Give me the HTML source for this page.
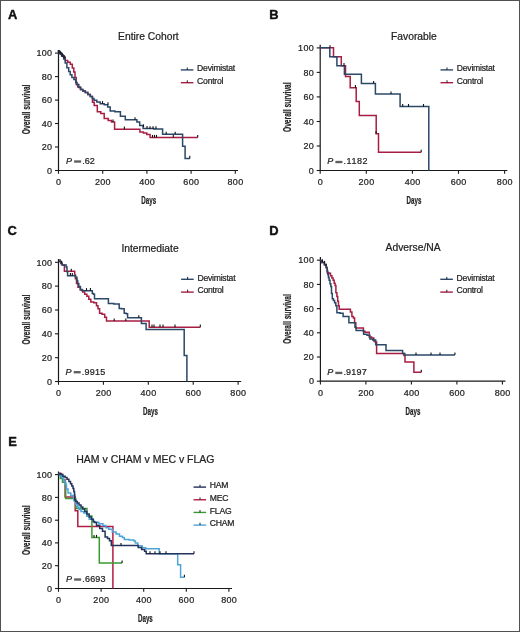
<!DOCTYPE html>
<html><head><meta charset="utf-8"><style>
html,body{margin:0;padding:0;background:#fff;}
body{width:520px;height:632px;overflow:hidden;position:relative;font-family:"Liberation Sans", sans-serif;}
.frame{position:absolute;left:0;top:0;width:518px;height:630px;border:1px solid #505050;}
svg{position:absolute;left:0;top:0;display:block;will-change:transform;}
text{stroke:#222;stroke-width:0.22px;}
</style></head><body>
<svg width="520" height="632" viewBox="0 0 520 632" font-family="Liberation Sans, sans-serif">
<rect x="0" y="0" width="520" height="632" fill="#fff"/>
<text x="7.9" y="18.6" font-size="12.9" text-anchor="start" font-weight="bold" font-style="normal" fill="#111" style="stroke:#111;stroke-width:0.4px">A</text>
<text x="148.4" y="40" font-size="10.3" text-anchor="middle" font-weight="normal" font-style="normal" fill="#222" >Entire Cohort</text>
<path d="M58.5,49.9V170.5H238" fill="none" stroke="#1a1a1a" stroke-width="1.2"/>
<line x1="55.0" y1="170.5" x2="58.5" y2="170.5" stroke="#1a1a1a" stroke-width="1.1"/>
<text x="52.3" y="173.7" font-size="9" text-anchor="end" font-weight="normal" font-style="normal" fill="#222" letter-spacing="0.3">0</text>
<line x1="55.0" y1="147.0" x2="58.5" y2="147.0" stroke="#1a1a1a" stroke-width="1.1"/>
<text x="52.3" y="150.22" font-size="9" text-anchor="end" font-weight="normal" font-style="normal" fill="#222" letter-spacing="0.3">20</text>
<line x1="55.0" y1="123.5" x2="58.5" y2="123.5" stroke="#1a1a1a" stroke-width="1.1"/>
<text x="52.3" y="126.74" font-size="9" text-anchor="end" font-weight="normal" font-style="normal" fill="#222" letter-spacing="0.3">40</text>
<line x1="55.0" y1="100.1" x2="58.5" y2="100.1" stroke="#1a1a1a" stroke-width="1.1"/>
<text x="52.3" y="103.26" font-size="9" text-anchor="end" font-weight="normal" font-style="normal" fill="#222" letter-spacing="0.3">60</text>
<line x1="55.0" y1="76.6" x2="58.5" y2="76.6" stroke="#1a1a1a" stroke-width="1.1"/>
<text x="52.3" y="79.78" font-size="9" text-anchor="end" font-weight="normal" font-style="normal" fill="#222" letter-spacing="0.3">80</text>
<line x1="55.0" y1="53.1" x2="58.5" y2="53.1" stroke="#1a1a1a" stroke-width="1.1"/>
<text x="52.3" y="56.3" font-size="9" text-anchor="end" font-weight="normal" font-style="normal" fill="#222" letter-spacing="0.3">100</text>
<line x1="58.5" y1="170.5" x2="58.5" y2="173.8" stroke="#1a1a1a" stroke-width="1.1"/>
<text x="58.7" y="185.3" font-size="9" text-anchor="middle" font-weight="normal" font-style="normal" fill="#222" letter-spacing="0.3">0</text>
<line x1="102.7" y1="170.5" x2="102.7" y2="173.8" stroke="#1a1a1a" stroke-width="1.1"/>
<text x="102.9" y="185.3" font-size="9" text-anchor="middle" font-weight="normal" font-style="normal" fill="#222" letter-spacing="0.3">200</text>
<line x1="146.9" y1="170.5" x2="146.9" y2="173.8" stroke="#1a1a1a" stroke-width="1.1"/>
<text x="147.1" y="185.3" font-size="9" text-anchor="middle" font-weight="normal" font-style="normal" fill="#222" letter-spacing="0.3">400</text>
<line x1="191.1" y1="170.5" x2="191.1" y2="173.8" stroke="#1a1a1a" stroke-width="1.1"/>
<text x="191.3" y="185.3" font-size="9" text-anchor="middle" font-weight="normal" font-style="normal" fill="#222" letter-spacing="0.3">600</text>
<line x1="235.3" y1="170.5" x2="235.3" y2="173.8" stroke="#1a1a1a" stroke-width="1.1"/>
<text x="235.5" y="185.3" font-size="9" text-anchor="middle" font-weight="normal" font-style="normal" fill="#222" letter-spacing="0.3">800</text>
<text x="0" y="0" font-size="10" font-weight="bold" fill="#222" text-anchor="middle" transform="translate(148.7,204.1) scale(0.62,1)">Days</text>
<text x="0" y="0" font-size="10.2" font-weight="bold" fill="#222" text-anchor="middle" style="stroke-width:0.2px" transform="translate(30.3,109.4) rotate(-90) scale(0.655,1)">Overall survival</text>
<text x="269.2" y="18.5" font-size="12.9" text-anchor="start" font-weight="bold" font-style="normal" fill="#111" style="stroke:#111;stroke-width:0.4px">B</text>
<text x="413.9" y="39.8" font-size="10.3" text-anchor="middle" font-weight="normal" font-style="normal" fill="#222" >Favorable</text>
<path d="M320.2,44.699999999999996V170.5H507.4" fill="none" stroke="#1a1a1a" stroke-width="1.2"/>
<line x1="316.7" y1="170.5" x2="320.2" y2="170.5" stroke="#1a1a1a" stroke-width="1.1"/>
<text x="314.0" y="173.7" font-size="9" text-anchor="end" font-weight="normal" font-style="normal" fill="#222" letter-spacing="0.3">0</text>
<line x1="316.7" y1="146.0" x2="320.2" y2="146.0" stroke="#1a1a1a" stroke-width="1.1"/>
<text x="314.0" y="149.17999999999998" font-size="9" text-anchor="end" font-weight="normal" font-style="normal" fill="#222" letter-spacing="0.3">20</text>
<line x1="316.7" y1="121.5" x2="320.2" y2="121.5" stroke="#1a1a1a" stroke-width="1.1"/>
<text x="314.0" y="124.66000000000001" font-size="9" text-anchor="end" font-weight="normal" font-style="normal" fill="#222" letter-spacing="0.3">40</text>
<line x1="316.7" y1="96.9" x2="320.2" y2="96.9" stroke="#1a1a1a" stroke-width="1.1"/>
<text x="314.0" y="100.14" font-size="9" text-anchor="end" font-weight="normal" font-style="normal" fill="#222" letter-spacing="0.3">60</text>
<line x1="316.7" y1="72.4" x2="320.2" y2="72.4" stroke="#1a1a1a" stroke-width="1.1"/>
<text x="314.0" y="75.62" font-size="9" text-anchor="end" font-weight="normal" font-style="normal" fill="#222" letter-spacing="0.3">80</text>
<line x1="316.7" y1="47.9" x2="320.2" y2="47.9" stroke="#1a1a1a" stroke-width="1.1"/>
<text x="314.0" y="51.10000000000001" font-size="9" text-anchor="end" font-weight="normal" font-style="normal" fill="#222" letter-spacing="0.3">100</text>
<line x1="320.2" y1="170.5" x2="320.2" y2="173.8" stroke="#1a1a1a" stroke-width="1.1"/>
<text x="320.4" y="185.3" font-size="9" text-anchor="middle" font-weight="normal" font-style="normal" fill="#222" letter-spacing="0.3">0</text>
<line x1="366.3" y1="170.5" x2="366.3" y2="173.8" stroke="#1a1a1a" stroke-width="1.1"/>
<text x="366.5" y="185.3" font-size="9" text-anchor="middle" font-weight="normal" font-style="normal" fill="#222" letter-spacing="0.3">200</text>
<line x1="412.4" y1="170.5" x2="412.4" y2="173.8" stroke="#1a1a1a" stroke-width="1.1"/>
<text x="412.6" y="185.3" font-size="9" text-anchor="middle" font-weight="normal" font-style="normal" fill="#222" letter-spacing="0.3">400</text>
<line x1="458.5" y1="170.5" x2="458.5" y2="173.8" stroke="#1a1a1a" stroke-width="1.1"/>
<text x="458.7" y="185.3" font-size="9" text-anchor="middle" font-weight="normal" font-style="normal" fill="#222" letter-spacing="0.3">600</text>
<line x1="504.6" y1="170.5" x2="504.6" y2="173.8" stroke="#1a1a1a" stroke-width="1.1"/>
<text x="504.8" y="185.3" font-size="9" text-anchor="middle" font-weight="normal" font-style="normal" fill="#222" letter-spacing="0.3">800</text>
<text x="0" y="0" font-size="10" font-weight="bold" fill="#222" text-anchor="middle" transform="translate(414,204.1) scale(0.62,1)">Days</text>
<text x="0" y="0" font-size="10.2" font-weight="bold" fill="#222" text-anchor="middle" style="stroke-width:0.2px" transform="translate(290.9,107.2) rotate(-90) scale(0.655,1)">Overall survival</text>
<text x="7.6" y="234.5" font-size="12.9" text-anchor="start" font-weight="bold" font-style="normal" fill="#111" style="stroke:#111;stroke-width:0.4px">C</text>
<text x="150" y="251.6" font-size="10.3" text-anchor="middle" font-weight="normal" font-style="normal" fill="#222" >Intermediate</text>
<path d="M58.5,259.1V381.5H241.2" fill="none" stroke="#1a1a1a" stroke-width="1.2"/>
<line x1="55.0" y1="381.5" x2="58.5" y2="381.5" stroke="#1a1a1a" stroke-width="1.1"/>
<text x="52.3" y="384.7" font-size="9" text-anchor="end" font-weight="normal" font-style="normal" fill="#222" letter-spacing="0.3">0</text>
<line x1="55.0" y1="357.7" x2="58.5" y2="357.7" stroke="#1a1a1a" stroke-width="1.1"/>
<text x="52.3" y="360.86" font-size="9" text-anchor="end" font-weight="normal" font-style="normal" fill="#222" letter-spacing="0.3">20</text>
<line x1="55.0" y1="333.8" x2="58.5" y2="333.8" stroke="#1a1a1a" stroke-width="1.1"/>
<text x="52.3" y="337.02" font-size="9" text-anchor="end" font-weight="normal" font-style="normal" fill="#222" letter-spacing="0.3">40</text>
<line x1="55.0" y1="310.0" x2="58.5" y2="310.0" stroke="#1a1a1a" stroke-width="1.1"/>
<text x="52.3" y="313.18" font-size="9" text-anchor="end" font-weight="normal" font-style="normal" fill="#222" letter-spacing="0.3">60</text>
<line x1="55.0" y1="286.1" x2="58.5" y2="286.1" stroke="#1a1a1a" stroke-width="1.1"/>
<text x="52.3" y="289.34" font-size="9" text-anchor="end" font-weight="normal" font-style="normal" fill="#222" letter-spacing="0.3">80</text>
<line x1="55.0" y1="262.3" x2="58.5" y2="262.3" stroke="#1a1a1a" stroke-width="1.1"/>
<text x="52.3" y="265.5" font-size="9" text-anchor="end" font-weight="normal" font-style="normal" fill="#222" letter-spacing="0.3">100</text>
<line x1="58.5" y1="381.5" x2="58.5" y2="384.8" stroke="#1a1a1a" stroke-width="1.1"/>
<text x="58.7" y="396.4" font-size="9" text-anchor="middle" font-weight="normal" font-style="normal" fill="#222" letter-spacing="0.3">0</text>
<line x1="103.4" y1="381.5" x2="103.4" y2="384.8" stroke="#1a1a1a" stroke-width="1.1"/>
<text x="103.6" y="396.4" font-size="9" text-anchor="middle" font-weight="normal" font-style="normal" fill="#222" letter-spacing="0.3">200</text>
<line x1="148.3" y1="381.5" x2="148.3" y2="384.8" stroke="#1a1a1a" stroke-width="1.1"/>
<text x="148.5" y="396.4" font-size="9" text-anchor="middle" font-weight="normal" font-style="normal" fill="#222" letter-spacing="0.3">400</text>
<line x1="193.2" y1="381.5" x2="193.2" y2="384.8" stroke="#1a1a1a" stroke-width="1.1"/>
<text x="193.4" y="396.4" font-size="9" text-anchor="middle" font-weight="normal" font-style="normal" fill="#222" letter-spacing="0.3">600</text>
<line x1="238.1" y1="381.5" x2="238.1" y2="384.8" stroke="#1a1a1a" stroke-width="1.1"/>
<text x="238.3" y="396.4" font-size="9" text-anchor="middle" font-weight="normal" font-style="normal" fill="#222" letter-spacing="0.3">800</text>
<text x="0" y="0" font-size="10" font-weight="bold" fill="#222" text-anchor="middle" transform="translate(150.5,415.3) scale(0.62,1)">Days</text>
<text x="0" y="0" font-size="10.2" font-weight="bold" fill="#222" text-anchor="middle" style="stroke-width:0.2px" transform="translate(30.3,319.6) rotate(-90) scale(0.655,1)">Overall survival</text>
<text x="269.2" y="234.5" font-size="12.9" text-anchor="start" font-weight="bold" font-style="normal" fill="#111" style="stroke:#111;stroke-width:0.4px">D</text>
<text x="413.1" y="250.9" font-size="10.3" text-anchor="middle" font-weight="normal" font-style="normal" fill="#222" >Adverse/NA</text>
<path d="M320.4,257.0V381.2H505.4" fill="none" stroke="#1a1a1a" stroke-width="1.2"/>
<line x1="316.9" y1="381.2" x2="320.4" y2="381.2" stroke="#1a1a1a" stroke-width="1.1"/>
<text x="314.2" y="384.4" font-size="9" text-anchor="end" font-weight="normal" font-style="normal" fill="#222" letter-spacing="0.3">0</text>
<line x1="316.9" y1="357.0" x2="320.4" y2="357.0" stroke="#1a1a1a" stroke-width="1.1"/>
<text x="314.2" y="360.2" font-size="9" text-anchor="end" font-weight="normal" font-style="normal" fill="#222" letter-spacing="0.3">20</text>
<line x1="316.9" y1="332.8" x2="320.4" y2="332.8" stroke="#1a1a1a" stroke-width="1.1"/>
<text x="314.2" y="336.0" font-size="9" text-anchor="end" font-weight="normal" font-style="normal" fill="#222" letter-spacing="0.3">40</text>
<line x1="316.9" y1="308.6" x2="320.4" y2="308.6" stroke="#1a1a1a" stroke-width="1.1"/>
<text x="314.2" y="311.8" font-size="9" text-anchor="end" font-weight="normal" font-style="normal" fill="#222" letter-spacing="0.3">60</text>
<line x1="316.9" y1="284.4" x2="320.4" y2="284.4" stroke="#1a1a1a" stroke-width="1.1"/>
<text x="314.2" y="287.59999999999997" font-size="9" text-anchor="end" font-weight="normal" font-style="normal" fill="#222" letter-spacing="0.3">80</text>
<line x1="316.9" y1="260.2" x2="320.4" y2="260.2" stroke="#1a1a1a" stroke-width="1.1"/>
<text x="314.2" y="263.4" font-size="9" text-anchor="end" font-weight="normal" font-style="normal" fill="#222" letter-spacing="0.3">100</text>
<line x1="320.4" y1="381.2" x2="320.4" y2="384.5" stroke="#1a1a1a" stroke-width="1.1"/>
<text x="320.6" y="396.1" font-size="9" text-anchor="middle" font-weight="normal" font-style="normal" fill="#222" letter-spacing="0.3">0</text>
<line x1="365.9" y1="381.2" x2="365.9" y2="384.5" stroke="#1a1a1a" stroke-width="1.1"/>
<text x="366.1" y="396.1" font-size="9" text-anchor="middle" font-weight="normal" font-style="normal" fill="#222" letter-spacing="0.3">200</text>
<line x1="411.4" y1="381.2" x2="411.4" y2="384.5" stroke="#1a1a1a" stroke-width="1.1"/>
<text x="411.6" y="396.1" font-size="9" text-anchor="middle" font-weight="normal" font-style="normal" fill="#222" letter-spacing="0.3">400</text>
<line x1="456.9" y1="381.2" x2="456.9" y2="384.5" stroke="#1a1a1a" stroke-width="1.1"/>
<text x="457.1" y="396.1" font-size="9" text-anchor="middle" font-weight="normal" font-style="normal" fill="#222" letter-spacing="0.3">600</text>
<line x1="502.4" y1="381.2" x2="502.4" y2="384.5" stroke="#1a1a1a" stroke-width="1.1"/>
<text x="502.6" y="396.1" font-size="9" text-anchor="middle" font-weight="normal" font-style="normal" fill="#222" letter-spacing="0.3">800</text>
<text x="0" y="0" font-size="10" font-weight="bold" fill="#222" text-anchor="middle" transform="translate(413,415.3) scale(0.62,1)">Days</text>
<text x="0" y="0" font-size="10.2" font-weight="bold" fill="#222" text-anchor="middle" style="stroke-width:0.2px" transform="translate(290.9,319) rotate(-90) scale(0.655,1)">Overall survival</text>
<text x="8.3" y="445.5" font-size="12.9" text-anchor="start" font-weight="bold" font-style="normal" fill="#111" style="stroke:#111;stroke-width:0.4px">E</text>
<text x="145.4" y="462.5" font-size="10.5" text-anchor="middle" font-weight="normal" font-style="normal" fill="#222" >HAM v CHAM v MEC v FLAG</text>
<path d="M58.5,471.40000000000003V588.5H232" fill="none" stroke="#1a1a1a" stroke-width="1.2"/>
<line x1="55.0" y1="588.5" x2="58.5" y2="588.5" stroke="#1a1a1a" stroke-width="1.1"/>
<text x="52.3" y="591.7" font-size="9" text-anchor="end" font-weight="normal" font-style="normal" fill="#222" letter-spacing="0.3">0</text>
<line x1="55.0" y1="565.7" x2="58.5" y2="565.7" stroke="#1a1a1a" stroke-width="1.1"/>
<text x="52.3" y="568.9200000000001" font-size="9" text-anchor="end" font-weight="normal" font-style="normal" fill="#222" letter-spacing="0.3">20</text>
<line x1="55.0" y1="542.9" x2="58.5" y2="542.9" stroke="#1a1a1a" stroke-width="1.1"/>
<text x="52.3" y="546.1400000000001" font-size="9" text-anchor="end" font-weight="normal" font-style="normal" fill="#222" letter-spacing="0.3">40</text>
<line x1="55.0" y1="520.2" x2="58.5" y2="520.2" stroke="#1a1a1a" stroke-width="1.1"/>
<text x="52.3" y="523.3600000000001" font-size="9" text-anchor="end" font-weight="normal" font-style="normal" fill="#222" letter-spacing="0.3">60</text>
<line x1="55.0" y1="497.4" x2="58.5" y2="497.4" stroke="#1a1a1a" stroke-width="1.1"/>
<text x="52.3" y="500.58" font-size="9" text-anchor="end" font-weight="normal" font-style="normal" fill="#222" letter-spacing="0.3">80</text>
<line x1="55.0" y1="474.6" x2="58.5" y2="474.6" stroke="#1a1a1a" stroke-width="1.1"/>
<text x="52.3" y="477.8" font-size="9" text-anchor="end" font-weight="normal" font-style="normal" fill="#222" letter-spacing="0.3">100</text>
<line x1="58.5" y1="588.5" x2="58.5" y2="591.8" stroke="#1a1a1a" stroke-width="1.1"/>
<text x="58.7" y="603.4" font-size="9" text-anchor="middle" font-weight="normal" font-style="normal" fill="#222" letter-spacing="0.3">0</text>
<line x1="101.1" y1="588.5" x2="101.1" y2="591.8" stroke="#1a1a1a" stroke-width="1.1"/>
<text x="101.3" y="603.4" font-size="9" text-anchor="middle" font-weight="normal" font-style="normal" fill="#222" letter-spacing="0.3">200</text>
<line x1="143.7" y1="588.5" x2="143.7" y2="591.8" stroke="#1a1a1a" stroke-width="1.1"/>
<text x="143.9" y="603.4" font-size="9" text-anchor="middle" font-weight="normal" font-style="normal" fill="#222" letter-spacing="0.3">400</text>
<line x1="186.3" y1="588.5" x2="186.3" y2="591.8" stroke="#1a1a1a" stroke-width="1.1"/>
<text x="186.5" y="603.4" font-size="9" text-anchor="middle" font-weight="normal" font-style="normal" fill="#222" letter-spacing="0.3">600</text>
<line x1="228.9" y1="588.5" x2="228.9" y2="591.8" stroke="#1a1a1a" stroke-width="1.1"/>
<text x="229.1" y="603.4" font-size="9" text-anchor="middle" font-weight="normal" font-style="normal" fill="#222" letter-spacing="0.3">800</text>
<text x="0" y="0" font-size="10" font-weight="bold" fill="#222" text-anchor="middle" transform="translate(145.4,622.1) scale(0.62,1)">Days</text>
<text x="0" y="0" font-size="10.2" font-weight="bold" fill="#222" text-anchor="middle" style="stroke-width:0.2px" transform="translate(30.0,530.2) rotate(-90) scale(0.655,1)">Overall survival</text>
<line x1="180.8" y1="69.9" x2="193.4" y2="69.9" stroke="#2a4868" stroke-width="1.4"/>
<line x1="187.3" y1="69.9" x2="187.3" y2="67.5" stroke="#222" stroke-width="1"/>
<text x="197.10000000000002" y="71.2" font-size="8.6" text-anchor="start" font-weight="normal" font-style="normal" fill="#222" letter-spacing="-0.22">Devimistat</text>
<line x1="180.8" y1="82.7" x2="193.4" y2="82.7" stroke="#a81d42" stroke-width="1.4"/>
<line x1="187.3" y1="82.7" x2="187.3" y2="80.3" stroke="#222" stroke-width="1"/>
<text x="197.10000000000002" y="84.0" font-size="8.6" text-anchor="start" font-weight="normal" font-style="normal" fill="#222" letter-spacing="-0.22">Control</text>
<line x1="440.5" y1="69.9" x2="453.1" y2="69.9" stroke="#2a4868" stroke-width="1.4"/>
<line x1="447.0" y1="69.9" x2="447.0" y2="67.5" stroke="#222" stroke-width="1"/>
<text x="456.8" y="71.2" font-size="8.6" text-anchor="start" font-weight="normal" font-style="normal" fill="#222" letter-spacing="-0.22">Devimistat</text>
<line x1="440.5" y1="82.7" x2="453.1" y2="82.7" stroke="#a81d42" stroke-width="1.4"/>
<line x1="447.0" y1="82.7" x2="447.0" y2="80.3" stroke="#222" stroke-width="1"/>
<text x="456.8" y="84.0" font-size="8.6" text-anchor="start" font-weight="normal" font-style="normal" fill="#222" letter-spacing="-0.22">Control</text>
<line x1="181.1" y1="279.3" x2="193.7" y2="279.3" stroke="#2a4868" stroke-width="1.4"/>
<line x1="187.6" y1="279.3" x2="187.6" y2="276.90000000000003" stroke="#222" stroke-width="1"/>
<text x="197.4" y="280.6" font-size="8.6" text-anchor="start" font-weight="normal" font-style="normal" fill="#222" letter-spacing="-0.22">Devimistat</text>
<line x1="181.1" y1="292.1" x2="193.7" y2="292.1" stroke="#a81d42" stroke-width="1.4"/>
<line x1="187.6" y1="292.1" x2="187.6" y2="289.70000000000005" stroke="#222" stroke-width="1"/>
<text x="197.4" y="293.40000000000003" font-size="8.6" text-anchor="start" font-weight="normal" font-style="normal" fill="#222" letter-spacing="-0.22">Control</text>
<line x1="440.3" y1="279.3" x2="452.90000000000003" y2="279.3" stroke="#2a4868" stroke-width="1.4"/>
<line x1="446.8" y1="279.3" x2="446.8" y2="276.90000000000003" stroke="#222" stroke-width="1"/>
<text x="456.6" y="280.6" font-size="8.6" text-anchor="start" font-weight="normal" font-style="normal" fill="#222" letter-spacing="-0.22">Devimistat</text>
<line x1="440.3" y1="292.1" x2="452.90000000000003" y2="292.1" stroke="#a81d42" stroke-width="1.4"/>
<line x1="446.8" y1="292.1" x2="446.8" y2="289.70000000000005" stroke="#222" stroke-width="1"/>
<text x="456.6" y="293.40000000000003" font-size="8.6" text-anchor="start" font-weight="normal" font-style="normal" fill="#222" letter-spacing="-0.22">Control</text>
<line x1="193.5" y1="487.1" x2="206.1" y2="487.1" stroke="#22345c" stroke-width="1.4"/>
<line x1="200.0" y1="487.1" x2="200.0" y2="484.70000000000005" stroke="#222" stroke-width="1"/>
<text x="209.8" y="488.40000000000003" font-size="8.6" text-anchor="start" font-weight="normal" font-style="normal" fill="#222" letter-spacing="-0.22">HAM</text>
<line x1="193.5" y1="499.77000000000004" x2="206.1" y2="499.77000000000004" stroke="#b41c44" stroke-width="1.4"/>
<line x1="200.0" y1="499.77000000000004" x2="200.0" y2="497.37000000000006" stroke="#222" stroke-width="1"/>
<text x="209.8" y="501.07000000000005" font-size="8.6" text-anchor="start" font-weight="normal" font-style="normal" fill="#222" letter-spacing="-0.22">MEC</text>
<line x1="193.5" y1="512.44" x2="206.1" y2="512.44" stroke="#3a9a32" stroke-width="1.4"/>
<line x1="200.0" y1="512.44" x2="200.0" y2="510.0400000000001" stroke="#222" stroke-width="1"/>
<text x="209.8" y="513.74" font-size="8.6" text-anchor="start" font-weight="normal" font-style="normal" fill="#222" letter-spacing="-0.22">FLAG</text>
<line x1="193.5" y1="525.11" x2="206.1" y2="525.11" stroke="#4ea5d8" stroke-width="1.4"/>
<line x1="200.0" y1="525.11" x2="200.0" y2="522.71" stroke="#222" stroke-width="1"/>
<text x="209.8" y="526.41" font-size="8.6" text-anchor="start" font-weight="normal" font-style="normal" fill="#222" letter-spacing="-0.22">CHAM</text>
<text x="66" y="163.8" font-size="9" fill="#222" font-style="italic">P</text>
<rect x="74.1" y="160.35" width="7.0" height="2.35" fill="#5f5f5f"/>
<text x="82.2" y="163.8" font-size="9" fill="#222" letter-spacing="0">.62</text>
<text x="327.3" y="164.3" font-size="9" fill="#222" font-style="italic">P</text>
<rect x="335.4" y="160.85" width="7.0" height="2.35" fill="#5f5f5f"/>
<text x="343.5" y="164.3" font-size="9" fill="#222" letter-spacing="0.55">.1182</text>
<text x="65.6" y="374.5" font-size="9" fill="#222" font-style="italic">P</text>
<rect x="73.7" y="371.05" width="7.0" height="2.35" fill="#5f5f5f"/>
<text x="81.8" y="374.5" font-size="9" fill="#222" letter-spacing="0.22">.9915</text>
<text x="327.2" y="375.2" font-size="9" fill="#222" font-style="italic">P</text>
<rect x="335.3" y="371.75" width="7.0" height="2.35" fill="#5f5f5f"/>
<text x="343.4" y="375.2" font-size="9" fill="#222" letter-spacing="0.22">.9197</text>
<text x="66" y="581.8" font-size="9" fill="#222" font-style="italic">P</text>
<rect x="74.1" y="578.35" width="7.0" height="2.35" fill="#5f5f5f"/>
<text x="82.2" y="581.8" font-size="9" fill="#222" letter-spacing="0.22">.6693</text>
<path d="M58.6,51.6H59.5V53.5H60.5H61.7V55.9H62.9H63.8V57.5H64.6H65.3V60.4H66.0H67.7V62.3H69.4H70.3V64.2H71.3H72.3V68.1H73.3H73.8V72.0H74.3H75.0V77.6H75.8H76.2V84.6H76.7H77.8V87.0H79.0H80.3V89.5H81.7H82.8V91.0H84.0H85.3V92.5H86.6H87.8V94.5H89.0H90.3V96.4H91.6H92.5V102.3H93.5H94.2V105.4H95.0H97.3V111.7H99.6H100.8V113.5H101.9H104.2V118.6H106.5H108.2V120.4H110.0H111.5V122.1H112.9L114.6,122.1L114.6,129.2L138.8,129.2H139.9V131.9H141.1H143.4V133.1H145.7H146.8V134.6H147.9L150.1,134.6L150.1,137.5L197.7,137.5" fill="none" stroke="#a81d42" stroke-width="1.5" stroke-linejoin="miter"/>
<path d="M58.6,51.6H59.5V53.5H60.5H61.7V55.9H62.9H63.7V59.0H64.5H65.2V63.0H66.0H66.9V67.8H67.8H68.7V71.5H69.5H70.2V74.7H70.8H71.9V77.5H73.0H73.9V79.6H74.8H75.7V82.5H76.5H77.1V84.6H77.7H78.8V87.5H80.0H80.8V89.5H81.7H82.8V91.0H84.0H85.3V92.5H86.6H87.8V94.5H89.0H90.3V96.4H91.6H92.3V98.5H93.0H94.0V100.2H95.0H96.8V101.9H98.5H100.2V103.7H101.9H104.2V104.8H106.5H107.7V107.1H108.8H110.2V111.1H111.7H114.9V111.7H118.1H120.4V116.3H122.7H125.3V119.8H127.9L135.4,119.8H136.9V122.1H138.3H139.7V125.6H141.1H143.1V128.6H145.2H153.8V128.9H162.4H162.6V134.3H162.8L182.6,134.3L182.6,146.2L184.7,146.2H185.1V158.4H185.5L189.8,158.4" fill="none" stroke="#2a4868" stroke-width="1.5" stroke-linejoin="miter"/>
<line x1="189.8" y1="158.4" x2="189.8" y2="155.8" stroke="#111" stroke-width="1.1"/>
<line x1="197.7" y1="137.5" x2="197.7" y2="134.9" stroke="#111" stroke-width="1.1"/>
<line x1="166.2" y1="134.3" x2="166.2" y2="131.70000000000002" stroke="#111" stroke-width="1.1"/>
<line x1="175.2" y1="134.3" x2="175.2" y2="131.70000000000002" stroke="#111" stroke-width="1.1"/>
<line x1="150" y1="128.9" x2="150" y2="126.30000000000001" stroke="#111" stroke-width="1.1"/>
<line x1="153" y1="128.9" x2="153" y2="126.30000000000001" stroke="#111" stroke-width="1.1"/>
<line x1="156" y1="128.9" x2="156" y2="126.30000000000001" stroke="#111" stroke-width="1.1"/>
<line x1="124.4" y1="129.2" x2="124.4" y2="126.6" stroke="#111" stroke-width="1.1"/>
<line x1="113" y1="122.1" x2="113" y2="119.5" stroke="#111" stroke-width="1.1"/>
<line x1="102.5" y1="103.7" x2="102.5" y2="101.10000000000001" stroke="#111" stroke-width="1.1"/>
<line x1="108" y1="104.8" x2="108" y2="102.2" stroke="#111" stroke-width="1.1"/>
<line x1="135" y1="119.8" x2="135" y2="117.2" stroke="#111" stroke-width="1.1"/>
<line x1="143.5" y1="127" x2="143.5" y2="124.4" stroke="#111" stroke-width="1.1"/>
<line x1="147" y1="128.6" x2="147" y2="126.0" stroke="#111" stroke-width="1.1"/>
<line x1="152.5" y1="137.5" x2="152.5" y2="134.9" stroke="#111" stroke-width="1.1"/>
<line x1="154.5" y1="137.5" x2="154.5" y2="134.9" stroke="#111" stroke-width="1.1"/>
<line x1="156.5" y1="137.5" x2="156.5" y2="134.9" stroke="#111" stroke-width="1.1"/>
<line x1="173.3" y1="137.5" x2="173.3" y2="134.9" stroke="#111" stroke-width="1.1"/>
<line x1="58.8" y1="53.1" x2="58.8" y2="50.5" stroke="#111" stroke-width="1.1"/>
<line x1="60.5" y1="54" x2="60.5" y2="51.4" stroke="#111" stroke-width="1.1"/>
<path d="M58.8,51.2 L64.4,57.2" stroke="#1c2634" stroke-width="2.6" stroke-linecap="round" fill="none"/>
<path d="M320.2,47.8 L333.5,47.8 L333.5,56.8 L341.3,56.8 L341.3,65.7 L345.5,65.7 L345.5,76.6 L350.2,76.6 L350.2,87.7 L356.2,87.7 L356.2,101.5 L359.3,101.5 L359.3,115.4 L376.2,115.4 L376.2,133.8 L378.5,133.8 L378.5,152.3 L421.2,152.3" fill="none" stroke="#a81d42" stroke-width="1.5" stroke-linejoin="miter"/>
<path d="M320.2,47.8 L329.8,47.8 L329.8,56.8 L336.9,56.8 L336.9,65.7 L344.4,65.7 L344.4,74.3 L361.4,74.3 L361.4,83.5 L375.4,83.5 L375.4,94.0 L400.1,94.0 L400.1,106.6 L428.8,106.6 L428.8,170.5" fill="none" stroke="#2a4868" stroke-width="1.5" stroke-linejoin="miter"/>
<line x1="330" y1="47.8" x2="330" y2="45.199999999999996" stroke="#111" stroke-width="1.1"/>
<line x1="344" y1="65.7" x2="344" y2="63.1" stroke="#111" stroke-width="1.1"/>
<line x1="373.6" y1="83.5" x2="373.6" y2="80.9" stroke="#111" stroke-width="1.1"/>
<line x1="391" y1="94" x2="391" y2="91.4" stroke="#111" stroke-width="1.1"/>
<line x1="402.7" y1="106.6" x2="402.7" y2="104.0" stroke="#111" stroke-width="1.1"/>
<line x1="408.5" y1="106.6" x2="408.5" y2="104.0" stroke="#111" stroke-width="1.1"/>
<line x1="423.5" y1="106.6" x2="423.5" y2="104.0" stroke="#111" stroke-width="1.1"/>
<line x1="355.4" y1="87.7" x2="355.4" y2="85.10000000000001" stroke="#111" stroke-width="1.1"/>
<line x1="376" y1="133.8" x2="376" y2="131.20000000000002" stroke="#111" stroke-width="1.1"/>
<line x1="421.2" y1="152.3" x2="421.2" y2="149.70000000000002" stroke="#111" stroke-width="1.1"/>
<path d="M58.8,261.5L61.0,261.5L61.0,263.5L62.2,263.5L62.2,265.1L64.4,265.1L64.4,271.3L74.4,271.3H74.7V275.0H75.0H75.4V278.8H75.8H76.5V283.5H77.3H78.0V287.3H78.8H80.3V290.1H81.9H82.7V291.9H83.5H84.7V294.2H85.8H86.9V296.2H88.1H88.8V299.3H89.6H90.8V301.9H91.9H93.8V302.7H95.8H96.5V305.8H97.3H98.0V308.8H98.8H99.6V313.2H100.4H102.0V314.2H103.5H104.7V317.3H105.8H106.5V321.0H107.3L149.2,321.0L149.2,327.2L200.3,327.2" fill="none" stroke="#a81d42" stroke-width="1.5" stroke-linejoin="miter"/>
<path d="M58.8,261.5L61.0,261.5L61.0,263.5L62.2,263.5L62.2,265.1L66.1,265.1L66.1,267.0L67.0,267.0L67.0,271.8L67.6,271.8L67.6,275.7L74.4,275.7H75.5V277.3H76.5H76.9V280.4H77.3H77.7V283.5H78.1H78.8V286.5H79.6H80.4V289.6H81.2H82.0V290.7H82.7L91.9,290.7H92.3V293.5H92.7H93.5V294.2H94.2H94.5V298.8H94.7L108.1,298.8H108.4V303.5H108.8H113.8V303.9H118.8H119.2V308.5H119.6H121.5V308.8H123.5H124.2V313.2H125.0H126.3V313.8H127.6L127.6,317.8L141.4,317.8L141.4,323.4L146.1,323.4L146.1,329.4L184.2,329.4L184.2,355.4L186.9,355.4L186.9,381.5" fill="none" stroke="#2a4868" stroke-width="1.5" stroke-linejoin="miter"/>
<line x1="200.3" y1="327.2" x2="200.3" y2="324.59999999999997" stroke="#111" stroke-width="1.1"/>
<line x1="152" y1="327.2" x2="152" y2="324.59999999999997" stroke="#111" stroke-width="1.1"/>
<line x1="154" y1="327.2" x2="154" y2="324.59999999999997" stroke="#111" stroke-width="1.1"/>
<line x1="160" y1="327.2" x2="160" y2="324.59999999999997" stroke="#111" stroke-width="1.1"/>
<line x1="163" y1="327.2" x2="163" y2="324.59999999999997" stroke="#111" stroke-width="1.1"/>
<line x1="175" y1="327.2" x2="175" y2="324.59999999999997" stroke="#111" stroke-width="1.1"/>
<line x1="70.4" y1="275.7" x2="70.4" y2="273.09999999999997" stroke="#111" stroke-width="1.1"/>
<line x1="72.3" y1="275.7" x2="72.3" y2="273.09999999999997" stroke="#111" stroke-width="1.1"/>
<line x1="71.3" y1="271.3" x2="71.3" y2="268.7" stroke="#111" stroke-width="1.1"/>
<line x1="60" y1="261.5" x2="60" y2="258.9" stroke="#111" stroke-width="1.1"/>
<line x1="61.7" y1="263.5" x2="61.7" y2="260.9" stroke="#111" stroke-width="1.1"/>
<line x1="86.5" y1="290.7" x2="86.5" y2="288.09999999999997" stroke="#111" stroke-width="1.1"/>
<line x1="90.4" y1="290.7" x2="90.4" y2="288.09999999999997" stroke="#111" stroke-width="1.1"/>
<line x1="114.2" y1="321" x2="114.2" y2="318.4" stroke="#111" stroke-width="1.1"/>
<line x1="125.8" y1="321" x2="125.8" y2="318.4" stroke="#111" stroke-width="1.1"/>
<line x1="138.8" y1="317.8" x2="138.8" y2="315.2" stroke="#111" stroke-width="1.1"/>
<path d="M320.4,260.4H321.8V262.4H323.2H324.4V264.7H325.5H326.1V267.6H326.7H327.2V272.8H327.8H328.7V273.3H329.6H330.5V275.7H331.3H331.9V278.0H332.5H333.1V280.3H333.6H334.2V283.2H334.8H335.1V285.5H335.3H335.9V292.7H336.5H336.9V296.5H337.3H337.7V301.2H338.1H338.5V305.8H338.8H339.2V309.2H339.6L349.6,309.2H350.4V311.9H351.2H351.9V316.5H352.7H353.4V318.1H354.2H354.6V322.7H355.0H355.8V328.1H356.5L362.7,328.1H363.4V331.2H364.2H364.9V332.3H365.6L368.5,332.3H369.2V337.1H370.0H371.6V338.1H373.3H373.8V341.0H374.2H375.2V342.0H376.2H376.6V353.5H377.1L403.1,353.5H403.9V355.4H404.6H405.0V362.1H405.4L413.7,362.1H413.9V372.3H414.2L421.3,372.3" fill="none" stroke="#a81d42" stroke-width="1.5" stroke-linejoin="miter"/>
<path d="M320.4,260.4H321.8V262.4H323.2H324.4V264.7H325.5H326.1V267.6H326.7H327.1V271.0H327.5H327.8V274.5H328.1H328.4V277.4H328.7H329.1V280.3H329.6H330.0V283.7H330.4H330.8V286.5H331.2H331.5V293.5H331.9H332.3V298.8H332.7H333.4V300.4H334.2H334.6V302.7H335.0H335.8V305.8H336.5H336.9V312.7H337.3H340.0V313.2H342.7H343.1V316.5H343.5L348.1,316.5H348.9V322.7H349.6L354.2,322.7H355.0V327.3H355.8H356.1V330.4H356.5L362.7,330.4H363.6V334.2H364.6H367.0V335.2H369.4H369.9V339.0H370.4H372.8V340.0H375.2H375.7V344.8H376.2L385.8,344.8H386.0V350.6H386.2L402.1,350.6H402.6V353.5H403.1H404.8V355.0H406.5L454.9,355.0" fill="none" stroke="#2a4868" stroke-width="1.5" stroke-linejoin="miter"/>
<line x1="454.9" y1="355" x2="454.9" y2="352.4" stroke="#111" stroke-width="1.1"/>
<line x1="416" y1="355" x2="416" y2="352.4" stroke="#111" stroke-width="1.1"/>
<line x1="431" y1="355" x2="431" y2="352.4" stroke="#111" stroke-width="1.1"/>
<line x1="440" y1="355" x2="440" y2="352.4" stroke="#111" stroke-width="1.1"/>
<line x1="421.3" y1="372.3" x2="421.3" y2="369.7" stroke="#111" stroke-width="1.1"/>
<line x1="322.5" y1="262" x2="322.5" y2="259.4" stroke="#111" stroke-width="1.1"/>
<line x1="324.5" y1="263.5" x2="324.5" y2="260.9" stroke="#111" stroke-width="1.1"/>
<line x1="326" y1="266" x2="326" y2="263.4" stroke="#111" stroke-width="1.1"/>
<path d="M58.8,473.4 L61.5,473.4 L61.5,477.0 L63.0,477.0 L63.0,480.0 L65.1,480.0 L65.1,497.0 L75.2,497.0 L75.2,510.8 L77.8,510.8 L77.8,526.6 L112.9,526.6 L112.9,588.5" fill="none" stroke="#b41c44" stroke-width="1.5" stroke-linejoin="miter"/>
<path d="M58.8,473.4H60.3V478.5H61.8H62.5V482.3H63.3L65.7,482.3L65.7,498.6L75.6,498.6H75.7V507.0H75.8H76.2V508.5H76.5L86.5,508.5H86.9V516.0H87.3L91.9,516.0L91.9,537.5L99.3,537.5L99.3,563.0L122.1,563.0" fill="none" stroke="#3a9a32" stroke-width="1.5" stroke-linejoin="miter"/>
<path d="M58.8,473.4H59.6V475.5H60.5H61.6V477.7H62.7H63.5V481.0H64.2H65.0V484.6H65.8H66.5V489.0H67.3H68.0V493.0H68.8H70.8V495.4H72.7H73.8V500.8H75.0H75.8V504.0H76.5H77.3V506.9H78.1H79.0V509.5H80.0H81.0V511.5H81.9H83.8V513.1H85.8H86.9V516.0H88.0H89.2V519.2H90.4H93.5V522.3H96.5H98.8V523.8H101.2H102.9V525.4H104.6H105.9V527.7H107.3H108.8V529.2H110.4H112.3V532.1H114.2H116.1V534.0H118.0H119.5V536.2H121.0H122.4V537.6H123.8H124.3V539.5H124.8H129.2V540.0H133.5H133.9V541.0H134.4H135.4V542.9H136.3H137.8V545.8H139.2H142.1V547.7H145.0H145.7V548.7H146.3L159.2,548.7L159.2,553.8L177.7,553.8L177.7,564.8L180.6,564.8L180.6,577.3L184.4,577.3" fill="none" stroke="#4ea5d8" stroke-width="1.5" stroke-linejoin="miter"/>
<path d="M58.8,473.4H60.1V474.5H61.5H62.9V476.2H64.2H65.1V477.5H66.0H67.0V479.2H68.1H68.9V481.5H69.8H70.5V483.8H71.2H71.8V486.0H72.5H73.0V488.5H73.5H73.8V491.5H74.2H74.5V494.6H74.7H74.8V500.0H75.0H75.8V501.5H76.5H77.3V503.1H78.1H79.0V505.0H80.0H81.0V506.9H81.9H82.8V509.0H83.8H84.8V511.5H85.8H86.9V514.0H88.0H89.2V516.9H90.4H91.3V519.2H92.3H93.2V521.5H94.2H94.6V522.5H95.0H96.5V525.4H98.1H99.7V528.5H101.2H102.5V531.2H103.7H105.1V536.9H106.5H107.5V538.5H108.5H109.5V540.8H110.4H111.3V545.6H112.3L136.3,545.6H138.2V547.5H140.2H141.6V549.4H143.1H144.6V551.3H146.0H146.2V553.8H146.5L194.0,553.8" fill="none" stroke="#22345c" stroke-width="1.5" stroke-linejoin="miter"/>
<line x1="194" y1="553.8" x2="194" y2="551.1999999999999" stroke="#111" stroke-width="1.1"/>
<line x1="184.4" y1="577.3" x2="184.4" y2="574.6999999999999" stroke="#111" stroke-width="1.1"/>
<line x1="122.1" y1="563" x2="122.1" y2="560.4" stroke="#111" stroke-width="1.1"/>
<line x1="121" y1="545.6" x2="121" y2="543.0" stroke="#111" stroke-width="1.1"/>
<line x1="150" y1="553.8" x2="150" y2="551.1999999999999" stroke="#111" stroke-width="1.1"/>
<line x1="155" y1="553.8" x2="155" y2="551.1999999999999" stroke="#111" stroke-width="1.1"/>
<line x1="160" y1="553.8" x2="160" y2="551.1999999999999" stroke="#111" stroke-width="1.1"/>
<line x1="166" y1="553.8" x2="166" y2="551.1999999999999" stroke="#111" stroke-width="1.1"/>
<line x1="94" y1="537.5" x2="94" y2="534.9" stroke="#111" stroke-width="1.1"/>
<line x1="96.5" y1="537.5" x2="96.5" y2="534.9" stroke="#111" stroke-width="1.1"/>
</svg>
<div class="frame"></div>
</body></html>
